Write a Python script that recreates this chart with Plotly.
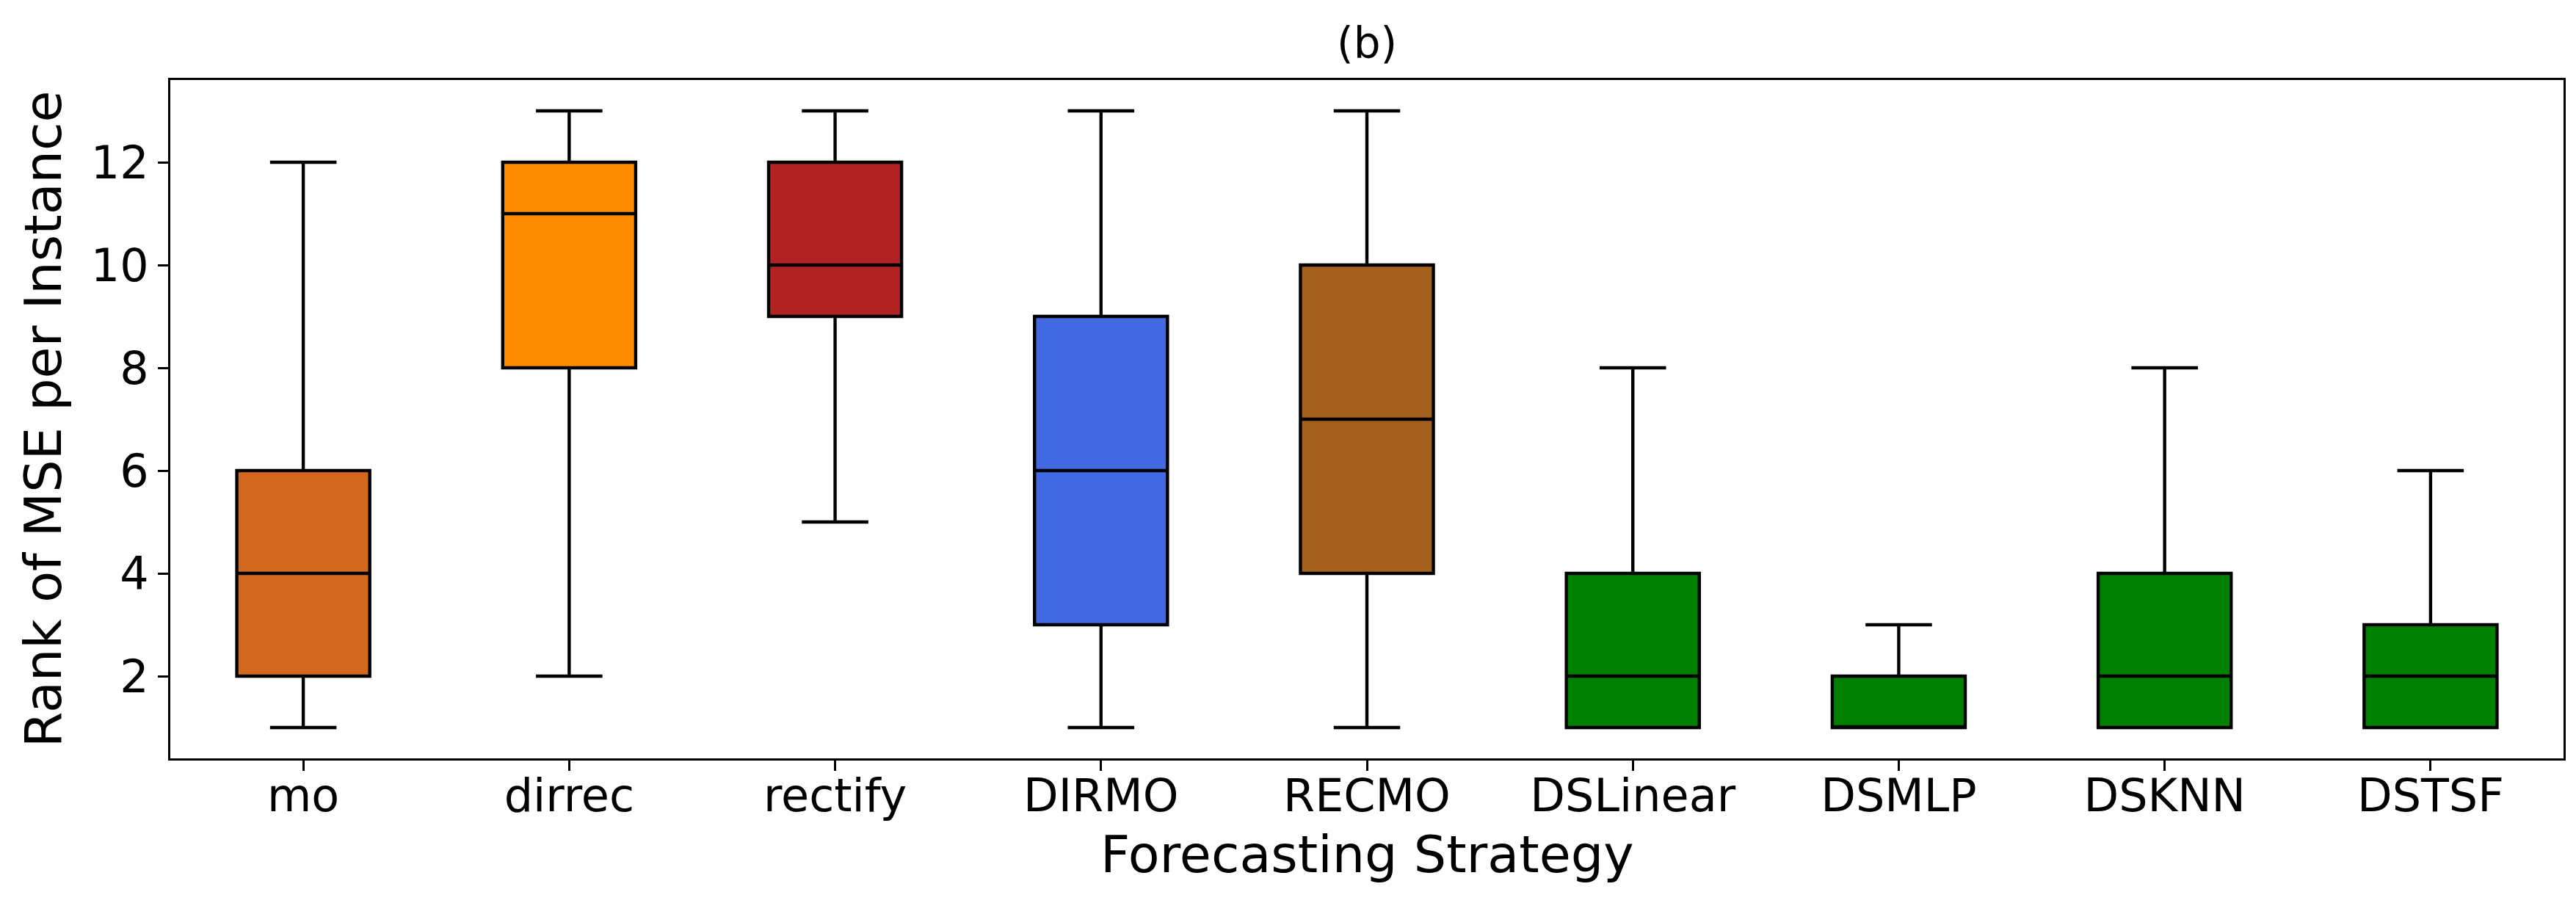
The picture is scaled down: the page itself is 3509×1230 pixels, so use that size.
import plotly.graph_objects as go

# box statistics (rank of MSE per instance)
strategies = ['mo', 'dirrec', 'rectify', 'DIRMO', 'RECMO',
              'DSLinear', 'DSMLP', 'DSKNN', 'DSTSF']
lower = [1, 2, 5, 1, 1, 1, 1, 1, 1]
q1 = [2, 8, 9, 3, 4, 1, 1, 1, 1]
median = [4, 11, 10, 6, 7, 2, 1, 2, 2]
q3 = [6, 12, 12, 9, 10, 4, 2, 4, 3]
upper = [12, 13, 13, 13, 13, 8, 3, 8, 6]
colors = ['#D2691E', '#FF8C00', '#B22222', '#4169E1', '#A6611C',
          '#008000', '#008000', '#008000', '#008000']

font = 'DejaVu Sans'

fig = go.Figure()
for i, s in enumerate(strategies):
    fig.add_trace(go.Box(
        x=[s], q1=[q1[i]], median=[median[i]], q3=[q3[i]],
        lowerfence=[lower[i]], upperfence=[upper[i]],
        fillcolor=colors[i],
        line=dict(color='black', width=4.4),
        width=0.5, whiskerwidth=0.5,
        boxpoints=False, showlegend=False, name=s,
    ))

axis_common = dict(
    showline=True, linecolor='black', linewidth=3, mirror=True,
    ticks='outside', ticklen=14, tickwidth=3, tickcolor='black',
    showgrid=False, zeroline=False,
    tickfont=dict(family=font, size=62, color='black'),
)

fig.update_layout(
    width=3509, height=1230,
    margin=dict(l=224, r=25, t=101, b=205),
    plot_bgcolor='white', paper_bgcolor='white',
    boxmode='overlay',
    xaxis=dict(categoryorder='array', categoryarray=strategies,
               range=[-0.5, 8.5], ticklabelstandoff=-19, **axis_common),
    yaxis=dict(range=[0.4, 13.6], tickvals=[2, 4, 6, 8, 10, 12],
               **axis_common),
    annotations=[
        dict(text='(b)', x=0.5, y=1, xref='paper', yref='paper',
             yanchor='middle', yshift=50, showarrow=False,
             font=dict(family=font, size=58, color='black')),
        dict(text='Forecasting Strategy', x=0.5, y=0, xref='paper', yref='paper',
             yanchor='middle', yshift=-131, showarrow=False,
             font=dict(family=font, size=70, color='black')),
        dict(text='Rank of MSE per Instance', x=0, y=0.5, xref='paper', yref='paper',
             xanchor='center', xshift=-173, textangle=-90, showarrow=False,
             font=dict(family=font, size=70, color='black')),
    ],
)

fig.write_html('out.html')
